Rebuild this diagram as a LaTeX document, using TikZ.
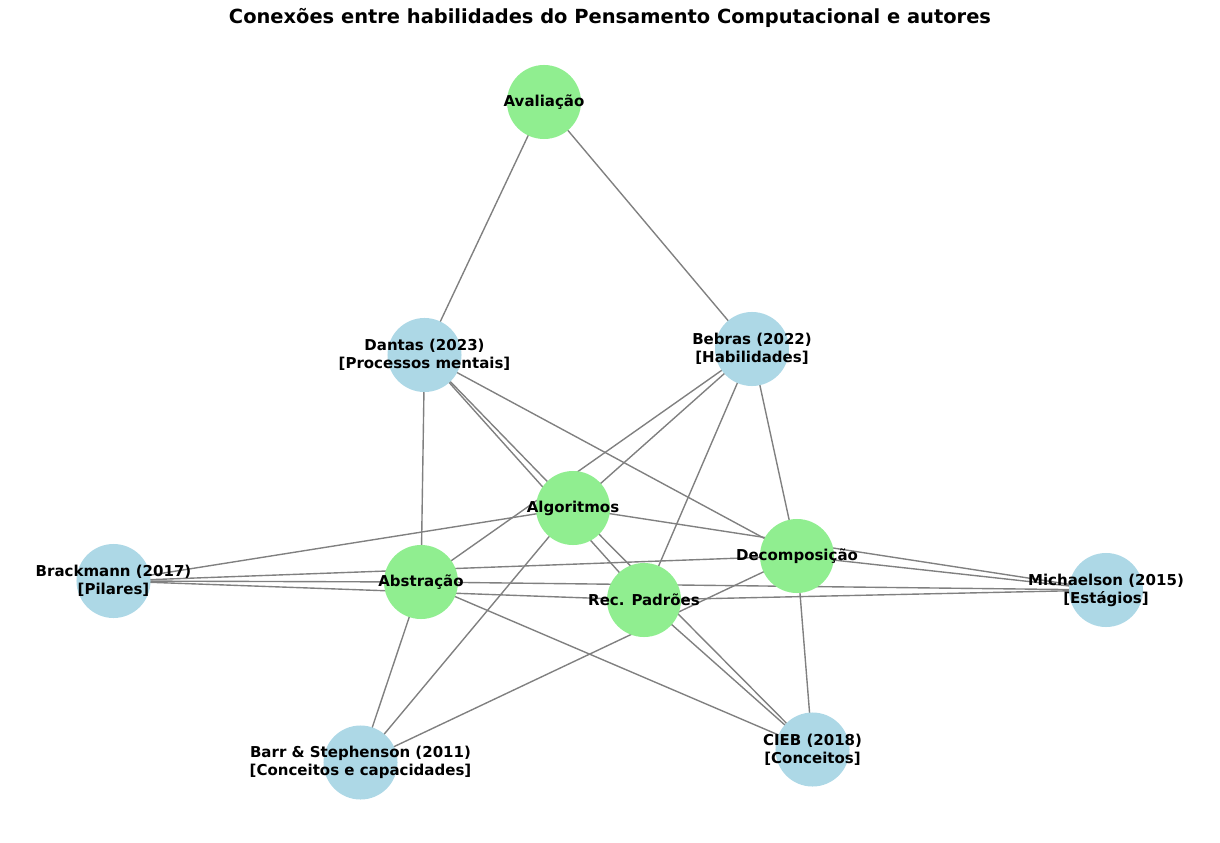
\documentclass[tikz,border=0pt]{standalone}
\usepackage{fontspec}
\setmainfont{DejaVu Sans}
\usetikzlibrary{backgrounds}
\definecolor{skill}{HTML}{90EE90}
\definecolor{author}{HTML}{ADD8E6}
\definecolor{edgegray}{HTML}{808080}
\tikzset{
  base/.style={circle, minimum size=53.3pt, inner sep=0pt, draw=none},
  skillnode/.style={base, fill=skill},
  authornode/.style={base, fill=author},
  lbl/.style={font=\fontsize{10.8}{13}\selectfont\bfseries, align=center, inner sep=0pt},
  conn/.style={draw=edgegray, line width=1pt}
}
\begin{document}
\begin{tikzpicture}[x=0.72pt, y=-0.72pt]
\useasboundingbox (0,0) rectangle (1220,843);
\node[font=\fontsize{14}{17}\selectfont\bfseries] (title) at (610,18) {Conexões entre habilidades do Pensamento Computacional e autores};
% skills
\node[skillnode, label={[lbl]center:Avaliação}] (ava) at (544,102) {};
\node[skillnode, label={[lbl]center:Algoritmos}] (alg) at (573,508) {};
\node[skillnode, label={[lbl]center:Decomposição}] (dec) at (797,556) {};
\node[skillnode, label={[lbl]center:Abstração}] (abs) at (421,582) {};
\node[skillnode, label={[lbl]center:Rec. Padrões}] (rec) at (644,600) {};
% authors
\node[authornode, label={[lbl]center:Dantas (2023)\\{[}Processos mentais{]}}] (dan) at (424.5,355) {};
\node[authornode, label={[lbl]center:Bebras (2022)\\{[}Habilidades{]}}] (beb) at (752,349) {};
\node[authornode, label={[lbl]center:Brackmann (2017)\\{[}Pilares{]}}] (bra) at (113.5,581) {};
\node[authornode, label={[lbl]center:Michaelson (2015)\\{[}Estágios{]}}] (mic) at (1106,590) {};
\node[authornode, label={[lbl]center:Barr \& Stephenson (2011)\\{[}Conceitos e capacidades{]}}] (bar) at (360.5,762.5) {};
\node[authornode, label={[lbl]center:CIEB (2018)\\{[}Conceitos{]}}] (cie) at (812.5,749.5) {};
\begin{scope}[on background layer]
\draw[conn] (ava.center) -- (dan.center);
\draw[conn] (ava.center) -- (beb.center);
\foreach \s in {abs,alg,rec,dec} {
  \draw[conn] (dan.center) -- (\s.center);
  \draw[conn] (beb.center) -- (\s.center);
  \draw[conn] (bra.center) -- (\s.center);
  \draw[conn] (mic.center) -- (\s.center);
  \draw[conn] (cie.center) -- (\s.center);
}
\foreach \s in {abs,alg,dec} {
  \draw[conn] (bar.center) -- (\s.center);
}
\end{scope}
\end{tikzpicture}
\end{document}
